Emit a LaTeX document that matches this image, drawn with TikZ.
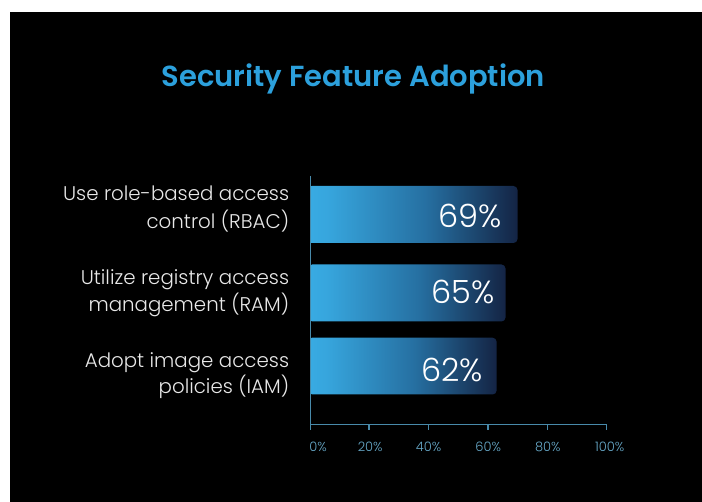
\documentclass[tikz,border=0pt]{standalone}
\usepackage{fontspec}
\setmainfont{Poppins}
\newfontfamily\lightfont{Poppins Light}
\newfontfamily\titlefont{Poppins SemiBold}
\definecolor{titleblue}{RGB}{44,160,220}
\definecolor{axisblue}{RGB}{72,138,170}
\definecolor{ticktext}{RGB}{104,170,202}
\definecolor{labeltext}{RGB}{232,232,232}
\definecolor{barA}{RGB}{56,170,226}
\definecolor{barB}{RGB}{38,112,162}
\definecolor{barC}{RGB}{20,36,68}
% the path's bounding box spans 25bp..75bp of the shading
\pgfdeclarehorizontalshading{barshade}{100bp}{color(0bp)=(barA); color(25bp)=(barA); color(29bp)=(barA!92!barB); color(52.5bp)=(barB); color(75bp)=(barC); color(100bp)=(barC)}
\tikzset{
  bar/.style={shading=barshade, rounded corners=4pt},
  axisline/.style={draw=axisblue, line width=1.3pt},
  catlabel/.style={anchor=base east, inner sep=0pt, text=labeltext, font=\lightfont\fontsize{19.8}{19.8}\selectfont},
  pctlabel/.style={anchor=base east, inner sep=0pt, text=white, font=\lightfont\fontsize{32}{32}\selectfont},
  ticklabel/.style={anchor=base, inner sep=0pt, text=ticktext, font=\lightfont\fontsize{13}{13}\selectfont},
}
\begin{document}
\begin{tikzpicture}[x=1pt,y=-1pt]
  \useasboundingbox (0,0) rectangle (702,502);
  \fill[white] (0,0) rectangle (702,502);
  \fill[black] (10,12) rectangle (702,502);

  % title
  \node[anchor=base, inner sep=0pt, text=titleblue, font=\titlefont\fontsize{29}{29}\selectfont]
    (title) at (353.3,86.5) {Security Feature Adoption};

  % bars (value * 2.98 px from the baseline at x = 311.7)
  \shade[bar] (311.7,186) -- (517.5,186) -- (517.5,243) -- (311.7,243);
  \shade[bar] (311.7,264.5) -- (505.5,264.5) -- (505.5,321.5) -- (311.7,321.5);
  \shade[bar] (311.7,337.7) -- (496.6,337.7) -- (496.6,394.5) -- (311.7,394.5);

  % values
  \node[pctlabel] (v1) at (502,227.5) {69\%};
  \node[pctlabel] (v2) at (495,303.3) {65\%};
  \node[pctlabel] (v3) at (483.3,381.7) {62\%};

  % category labels
  \node[catlabel] (c1a) at (289.3,201) {Use role-based access};
  \node[catlabel] (c1b) at (289.3,228.5) {control (RBAC)};
  \node[catlabel] (c2a) at (289.3,284.3) {Utilize registry access};
  \node[catlabel] (c2b) at (289.3,311.3) {management (RAM)};
  \node[catlabel] (c3a) at (289.3,367.7) {Adopt image access};
  \node[catlabel] (c3b) at (289.3,394) {policies (IAM)};

  % axes
  \draw[axisline] (310.3,176) -- (310.3,424.6) -- (606.7,424.6);
  \foreach \x in {310.3,369,428.3,488,547.3,606.7}
    \draw[axisline] (\x,424.6) -- (\x,430.5);

  % tick labels
  \node[ticklabel] (t0) at (318,451.5) {0\%};
  \node[ticklabel] (t20) at (370.2,451.5) {20\%};
  \node[ticklabel] (t40) at (428.5,451.5) {40\%};
  \node[ticklabel] (t60) at (488.3,451.5) {60\%};
  \node[ticklabel] (t80) at (547.8,451.5) {80\%};
  \node[ticklabel] (t100) at (609.7,451.5) {100\%};
\end{tikzpicture}
\end{document}
